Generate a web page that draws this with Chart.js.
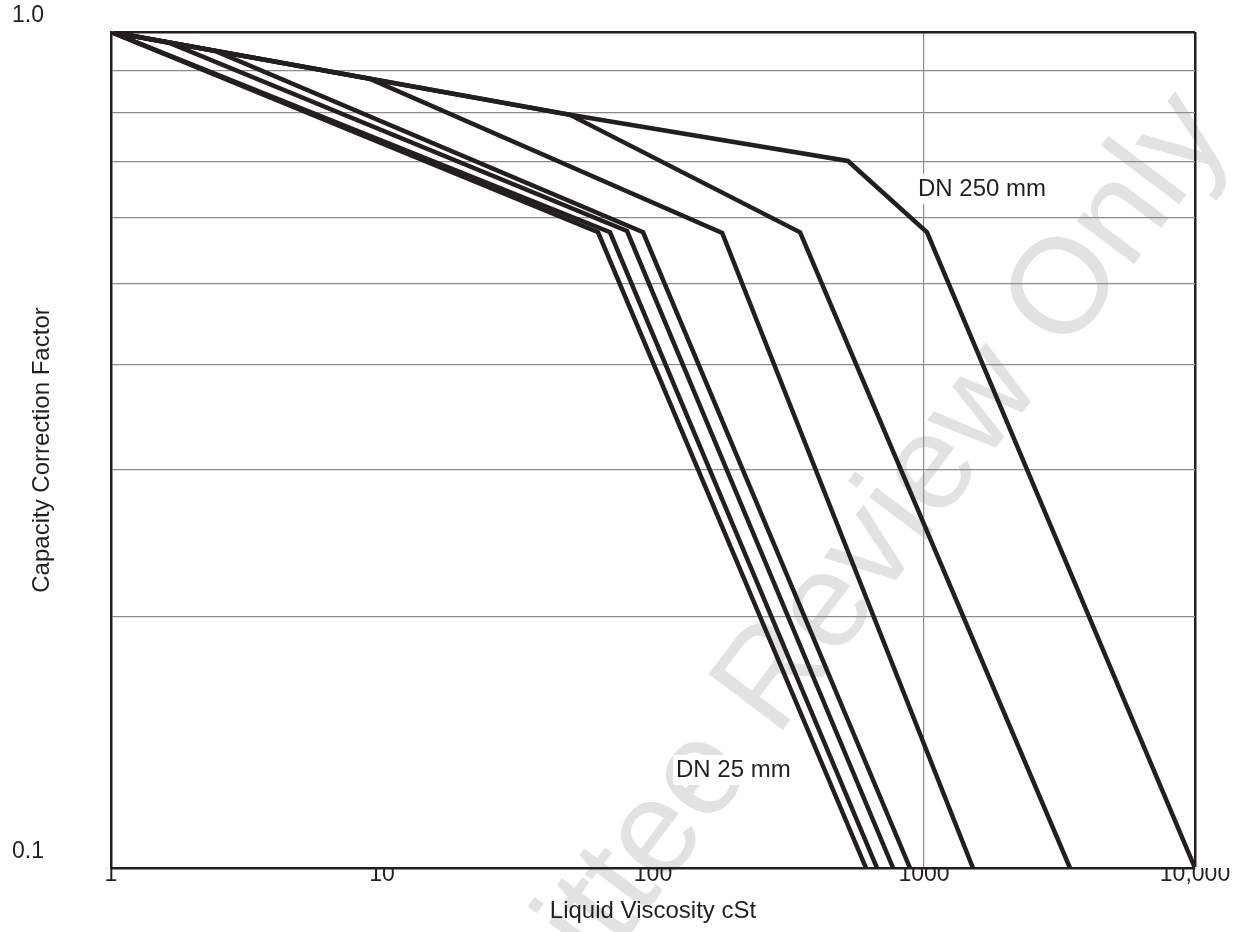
<!DOCTYPE html>
<html>
<head>
<meta charset="utf-8">
<script src="https://cdn.jsdelivr.net/npm/chart.js@4.4.1/dist/chart.umd.min.js"></script>
<style>
html,body{margin:0;padding:0;background:#ffffff;}
#wrap{width:1245px;height:932px;position:relative;}
</style>
</head>
<body>
<div id="wrap"><canvas id="c" width="1245" height="932"></canvas></div>
<script>
// ---- data (log-log axes) ----
const seriesNames = ['DN 25', 'DN 40', 'DN 50', 'DN 80', 'DN 100', 'DN 150', 'DN 250'];

const viscosityDN25  = [1, 62.7, 611];
const factorDN25     = [1.0, 0.576, 0.1];

const viscosityDN40  = [1, 69.4, 671];
const factorDN40     = [1.0, 0.576, 0.1];

const viscosityDN50  = [1, 1.65, 80.2, 769];
const factorDN50     = [1.0, 0.970, 0.578, 0.1];

const viscosityDN80  = [1, 2.42, 91.9, 888];
const factorDN80     = [1.0, 0.949, 0.576, 0.1];

const viscosityDN100 = [1, 9.03, 180, 1516];
const factorDN100    = [1.0, 0.879, 0.575, 0.1];

const viscosityDN150 = [1, 9.03, 49.4, 349, 3457];
const factorDN150    = [1.0, 0.879, 0.796, 0.576, 0.1];

const viscosityDN250 = [1, 9.03, 49.4, 524, 1026, 10000];
const factorDN250    = [1.0, 0.879, 0.796, 0.701, 0.576, 0.1];

const xTickValues = [1, 10, 100, 1000, 10000];
const xTickLabels = ['1', '10', '100', '1000', '10,000'];
const yTickValues = [0.1, 0.2, 0.3, 0.4, 0.5, 0.6, 0.7, 0.8, 0.9, 1.0];
const yTickLabels = ['0.1', '', '', '', '', '', '', '', '', '1.0'];

const annotationTexts  = ['DN 250 mm', 'DN 25 mm'];
const annotationX      = [950, 121.6];
const annotationY      = [0.649, 0.131];

const xTitle = 'Liquid Viscosity cSt';
const yTitle = 'Capacity Correction Factor';
const watermarkText = 'Committee Review Only';

// ---- styling ----
const FONT = '"Liberation Sans", Arial, Helvetica, sans-serif';
const INK = '#231f20';
const GRID = '#8c8c8c';
const CLEAR = 'rgba(0,0,0,0)';

const seriesX = [viscosityDN25, viscosityDN40, viscosityDN50, viscosityDN80, viscosityDN100, viscosityDN150, viscosityDN250];
const seriesY = [factorDN25, factorDN40, factorDN50, factorDN80, factorDN100, factorDN150, factorDN250];

const datasets = seriesNames.map((name, k) => ({
  label: name,
  data: seriesX[k].map((x, i) => ({ x: x, y: seriesY[k][i] })),
  showLine: true,
  borderColor: INK,
  backgroundColor: INK,
  borderWidth: 4.5,
  pointRadius: 0,
  pointHoverRadius: 0,
  fill: false,
  tension: 0
}));

const watermarkPlugin = {
  id: 'watermark',
  beforeDraw(chart) {
    const ctx = chart.ctx;
    ctx.save();
    ctx.fillStyle = '#e2e2e2';
    ctx.font = '135px ' + FONT;
    ctx.textAlign = 'left';
    ctx.textBaseline = 'alphabetic';
    ctx.translate(361, 1290);
    ctx.rotate(-53 * Math.PI / 180);
    ctx.fillText(watermarkText, 0, 0);
    ctx.restore();
  }
};

const annotationPlugin = {
  id: 'dnLabels',
  afterDatasetsDraw(chart) {
    const ctx = chart.ctx;
    const xs = chart.scales.x, ys = chart.scales.y;
    ctx.save();
    ctx.font = '24px ' + FONT;
    ctx.textAlign = 'left';
    ctx.textBaseline = 'middle';
    annotationTexts.forEach((t, i) => {
      const px = xs.getPixelForValue(annotationX[i]);
      const py = ys.getPixelForValue(annotationY[i]);
      const w = ctx.measureText(t).width;
      ctx.fillStyle = '#ffffff';
      ctx.fillRect(px - 3, py - 15, w + 6, 30);
      ctx.fillStyle = INK;
      ctx.fillText(t, px, py);
    });
    ctx.restore();
  }
};

new Chart(document.getElementById('c'), {
  type: 'scatter',
  data: { datasets: datasets },
  plugins: [watermarkPlugin, annotationPlugin],
  options: {
    responsive: false,
    animation: false,
    events: [],
    layout: { padding: { left: 12, top: 32, right: 50, bottom: 0 } },
    plugins: { legend: { display: false }, tooltip: { enabled: false } },
    scales: {
      x: {
        type: 'logarithmic',
        min: 1,
        max: 10000,
        afterBuildTicks: (s) => { s.ticks = xTickValues.map(v => ({ value: v })); },
        afterFit: (s) => { s.height = 64; },
        ticks: {
          autoSkip: false,
          maxRotation: 0,
          padding: -7,
          color: INK,
          font: { family: FONT, size: 23 },
          callback: (v) => { const i = xTickValues.indexOf(v); return i >= 0 ? xTickLabels[i] : ''; }
        },
        grid: {
          drawTicks: false,
          color: (c) => c.tick && c.tick.value === 1000 ? GRID : (c.tick && c.tick.value === 10000 ? INK : CLEAR),
          lineWidth: (c) => c.tick && c.tick.value === 10000 ? 2.5 : 1.2
        },
        border: { display: true, color: INK, width: 2.5 },
        title: {
          display: true,
          text: xTitle,
          color: INK,
          font: { family: FONT, size: 24 },
          padding: { top: 0, bottom: 6 }
        }
      },
      y: {
        type: 'logarithmic',
        min: 0.1,
        max: 1,
        afterBuildTicks: (s) => { s.ticks = yTickValues.map(v => ({ value: v })); },
        afterFit: (s) => { s.width = 99; },
        ticks: {
          autoSkip: false,
          crossAlign: 'far',
          labelOffset: -16,
          padding: 0,
          color: INK,
          font: { family: FONT, size: 23 },
          callback: (v) => {
            let best = 0, d = 1e9;
            yTickValues.forEach((t, i) => { const dd = Math.abs(t - v); if (dd < d) { d = dd; best = i; } });
            return yTickLabels[best];
          }
        },
        grid: {
          drawTicks: false,
          color: (c) => {
            if (!c.tick) return CLEAR;
            const v = c.tick.value;
            if (v > 0.999) return INK;
            if (v < 0.1001) return CLEAR;
            return GRID;
          },
          lineWidth: (c) => c.tick && c.tick.value > 0.999 ? 2.5 : 1.2
        },
        border: { display: true, color: INK, width: 2.5 },
        title: {
          display: true,
          text: yTitle,
          color: INK,
          font: { family: FONT, size: 24 },
          padding: { top: 16, bottom: 0 }
        }
      }
    }
  }
});
</script>
</body>
</html>
